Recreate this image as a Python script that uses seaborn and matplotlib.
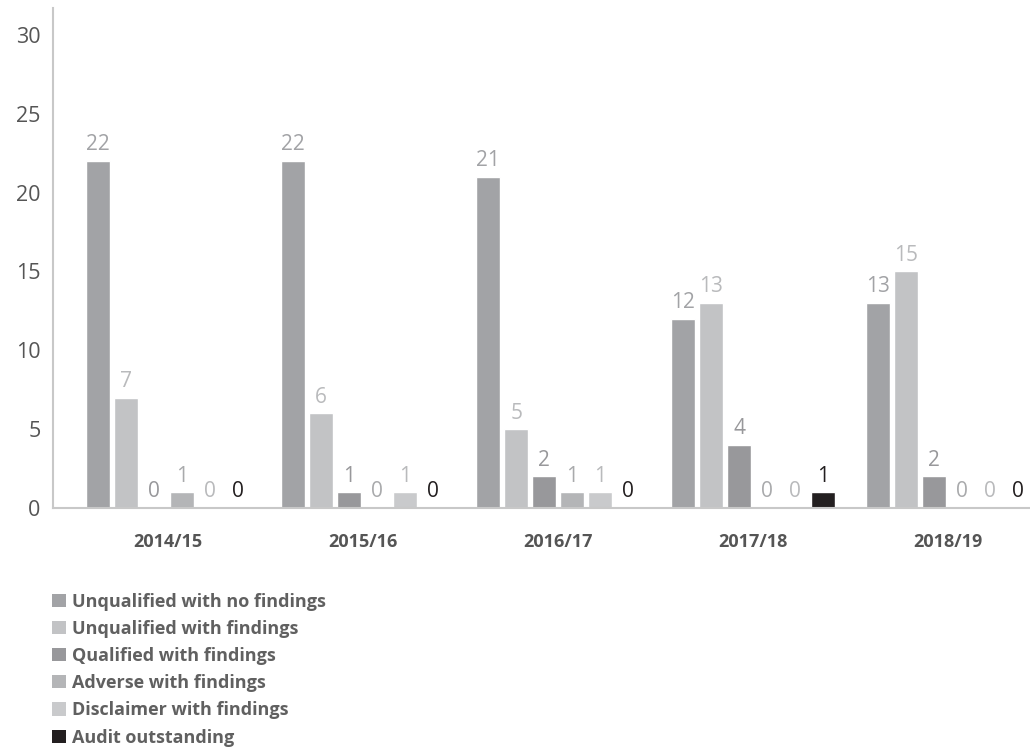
import matplotlib
matplotlib.use("Agg")
import matplotlib.pyplot as plt
import seaborn as sns
import pandas as pd
from matplotlib.patches import Patch

years = ["2014/15", "2015/16", "2016/17", "2017/18", "2018/19"]
categories = [
    "Unqualified with no findings",
    "Unqualified with findings",
    "Qualified with findings",
    "Adverse with findings",
    "Disclaimer with findings",
    "Audit outstanding",
]
unqualified_no = [22, 22, 21, 12, 13]
unqualified_find = [7, 6, 5, 13, 15]
qualified = [0, 1, 2, 4, 2]
adverse = [1, 0, 1, 0, 0]
disclaimer = [0, 1, 1, 0, 0]
outstanding = [0, 0, 0, 1, 0]

colors = ["#a2a3a6", "#c2c3c5", "#98989b", "#b4b5b7", "#c9cacc", "#231f20"]
label_colors = ["#a2a3a6", "#b9babc", "#98989b", "#a9aaac", "#b9babc", "#231f20"]

series = [unqualified_no, unqualified_find, qualified, adverse, disclaimer, outstanding]
rows = []
for cat, vals in zip(categories, series):
    for y, v in zip(years, vals):
        rows.append({"year": y, "category": cat, "value": v})
df = pd.DataFrame(rows)

sns.set_style("white")
plt.rcParams["font.family"] = ["Open Sans", "DejaVu Sans"]

fig = plt.figure(figsize=(10.3, 7.51), dpi=100)
ax = fig.add_axes([0.0515, 0.3236, 0.9485, 0.6657])

sns.barplot(data=df, x="year", y="value", hue="category", hue_order=categories,
            order=years, palette=dict(zip(categories, colors)), width=0.86, gap=0.16,
            saturation=1, legend=False, ax=ax)

for cont, vals, c in zip(ax.containers, series, label_colors):
    ax.bar_label(cont, labels=[str(v) for v in vals], padding=4, color=c, fontsize=15)

ax.set_xlim(-0.59, 4.42)
ax.set_ylim(0, 31.7)
ax.set_yticks([0, 5, 10, 15, 20, 25, 30])
ax.set_xlabel("")
ax.set_ylabel("")

for s in ["top", "right"]:
    ax.spines[s].set_visible(False)
for s in ["left", "bottom"]:
    ax.spines[s].set_color("#c8c8c8")
    ax.spines[s].set_linewidth(1.5)

ax.tick_params(axis="y", direction="in", length=16, width=1, color="#999999",
               labelsize=15.5, labelcolor="#555555", pad=9)
ax.tick_params(axis="x", length=0, pad=18, labelsize=13, labelcolor="#555555")
for t in ax.get_xticklabels():
    t.set_fontweight("bold")

handles = [Patch(facecolor=c, edgecolor="none") for c in colors]
leg = fig.legend(handles, categories, loc="upper left", bbox_to_anchor=(0.0505, 0.211),
                 frameon=False, handlelength=0.75, handleheight=0.75, handletextpad=0.36,
                 labelspacing=0.51, borderpad=0, borderaxespad=0,
                 prop={"weight": "bold", "size": 13})
for t in leg.get_texts():
    t.set_color("#606060")

fig.savefig("out.png", dpi=100)
